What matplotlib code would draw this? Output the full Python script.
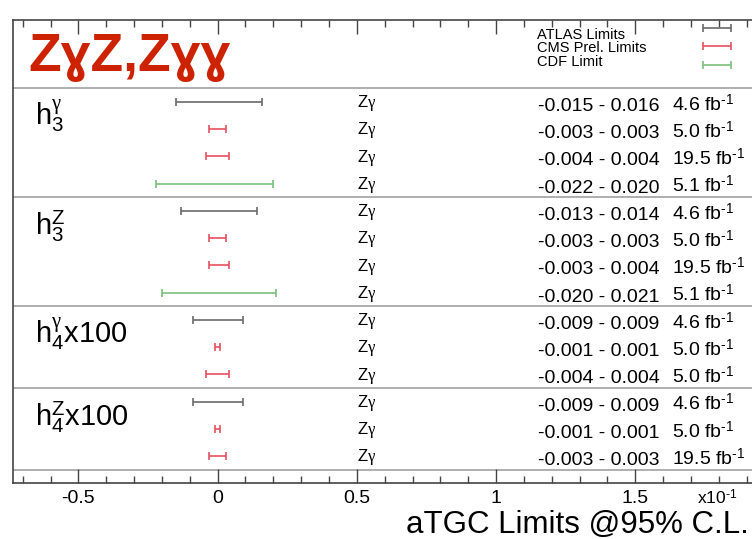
import numpy as np
import matplotlib
matplotlib.use("Agg")
import matplotlib.pyplot as plt
from matplotlib.ticker import MultipleLocator, FuncFormatter
from matplotlib.legend_handler import HandlerErrorbar

plt.rcParams['font.family'] = ['Liberation Sans', 'DejaVu Sans']
plt.rcParams['mathtext.fontset'] = 'custom'
plt.rcParams['mathtext.rm'] = 'Liberation Sans'
plt.rcParams['mathtext.it'] = 'Liberation Serif'
plt.rcParams['mathtext.bf'] = 'Liberation Sans:bold'
plt.rcParams['axes.unicode_minus'] = False

# ---- data -------------------------------------------------------------
group_labels = [r'$\mathrm{h}_{\mathrm{3}}^{\gamma}$',
                r'$\mathrm{h}_{\mathrm{3}}^{\mathrm{Z}}$',
                r'$\mathrm{h}_{\mathrm{4}}^{\gamma}$x100',
                r'$\mathrm{h}_{\mathrm{4}}^{\mathrm{Z}}$x100']
group_sizes = [4, 4, 3, 3]
experiment = ['ATLAS', 'CMS', 'CMS', 'CDF',
              'ATLAS', 'CMS', 'CMS', 'CDF',
              'ATLAS', 'CMS', 'CMS',
              'ATLAS', 'CMS', 'CMS']
lower = [-0.015, -0.003, -0.004, -0.022,
         -0.013, -0.003, -0.003, -0.020,
         -0.009, -0.001, -0.004,
         -0.009, -0.001, -0.003]
upper = [0.016, 0.003, 0.004, 0.020,
         0.014, 0.003, 0.004, 0.021,
         0.009, 0.001, 0.004,
         0.009, 0.001, 0.003]
lumi = [4.6, 5.0, 19.5, 5.1,
        4.6, 5.0, 19.5, 5.1,
        4.6, 5.0, 5.0,
        4.6, 5.0, 19.5]
channel = [r'Z$\gamma$'] * 14
legend_names = {'ATLAS': 'ATLAS Limits', 'CMS': 'CMS Prel. Limits', 'CDF': 'CDF Limit'}
colors = {'ATLAS': '#6a6a6a', 'CMS': '#e8505f', 'CDF': '#7cc07c'}

# ---- figure -----------------------------------------------------------
W, H = 752, 539
fig = plt.figure(figsize=(W / 100, H / 100), dpi=100)
x0, x1 = -0.0735, 0.195
px_per_unit = 2784.0
ax = fig.add_axes([13 / W, (H - 483.3) / H, (x1 - x0) * px_per_unit / W, 463.3 / H])
ax.set_xlim(x0, x1)
n_rows = len(lower)
ax.set_ylim(0, n_rows + 3)

rows = np.arange(n_rows, 0, -1).astype(float)  # top row at n_rows, bottom at 1
lower = np.array(lower)
upper = np.array(upper)

handles = {}
for exp in ['ATLAS', 'CMS', 'CDF']:
    idx = [i for i, e in enumerate(experiment) if e == exp]
    c = ax.errorbar(np.zeros(len(idx)), rows[idx],
                    xerr=[-lower[idx], upper[idx]], fmt='none',
                    ecolor=colors[exp], elinewidth=1.2, capsize=2.6,
                    capthick=1.2, zorder=3)
    handles[exp] = c

# group separators and labels
start = 0
ax.axhline(rows[0] + 0.5, color='#a8a8a8', lw=1.3, zorder=1)
for lab, size in zip(group_labels, group_sizes):
    first = rows[start]
    ax.text(-0.0655, first - 0.89, lab, fontsize=21, ha='left', va='baseline')
    ax.axhline(rows[start + size - 1] - 0.5, color='#a8a8a8', lw=1.3, zorder=1)
    start += size

# row annotations
for i in range(n_rows):
    ax.text(0.05, rows[i] - 0.2, channel[i], fontsize=12, ha='left', va='baseline')
    ax.text(0.1151, rows[i] - 0.33, f'{lower[i]:.3f} - {upper[i]:.3f}',
            fontsize=14, ha='left', va='baseline')
    ax.text(0.1632, rows[i] - 0.33, f'{lumi[i]:.1f} fb' + r'$^{\text{-1}}$',
            fontsize=14, ha='left', va='baseline')

# axes style
ax.set_yticks([])
ax.xaxis.set_major_locator(MultipleLocator(0.05))
ax.xaxis.set_minor_locator(MultipleLocator(0.01))
ax.xaxis.set_major_formatter(FuncFormatter(lambda v, p: f'{round(v * 10, 3):g}'))
ax.tick_params(axis='x', which='both', direction='in', top=True, bottom=True,
               color='#444444', labelsize=14, pad=5)
ax.tick_params(axis='x', which='major', length=10, width=1.0)
ax.tick_params(axis='x', which='minor', length=5, width=1.0)
for s in ax.spines.values():
    s.set_color('#444444')
    s.set_linewidth(1.2)

# legend keys
leg = ax.legend([handles['ATLAS'], handles['CMS'], handles['CDF']], ['', '', ''],
                handler_map={type(handles['ATLAS']): HandlerErrorbar(xerr_size=1.04)},
                loc='center', bbox_to_anchor=(717 / W, 1 - 47.3 / H),
                bbox_transform=fig.transFigure, frameon=False, fontsize=10,
                handlelength=2.2, handletextpad=0, labelspacing=0.3,
                borderpad=0, borderaxespad=0)
for j, exp in enumerate(['ATLAS', 'CMS', 'CDF']):
    fig.text(537 / W, 1 - (38.8 + j * 13.7) / H, legend_names[exp],
             fontsize=10.5, ha='left', va='baseline')

# title and axis annotations
fig.text(28 / W, 1 - 70.5 / H, 'ZɣZ,Zɣɣ', color='#cc2200', fontsize=38.5,
         fontweight='bold', ha='left', va='baseline')
fig.text(697 / W, 1 - 504 / H, r'x10$^{\text{-1}}$', fontsize=12.5,
         ha='left', va='baseline')
fig.text(749 / W, 1 - 533 / H, 'aTGC Limits @95% C.L.', fontsize=22.5,
         ha='right', va='baseline')

fig.savefig('out.png', dpi=100)
